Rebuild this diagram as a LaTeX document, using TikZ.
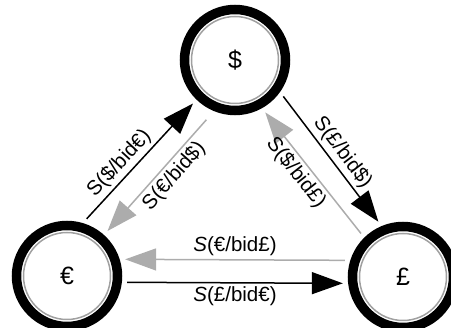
\documentclass[tikz,border=0pt]{standalone}
\usepackage{fontspec}
\setmainfont{Liberation Sans}
\usetikzlibrary{arrows.meta}
\definecolor{arrowgrey}{RGB}{172,172,172}
\definecolor{ringgrey}{RGB}{160,160,160}
\tikzset{
  currency/.style={shape=circle,draw=black,line width=9.5pt,minimum size=101pt,inner sep=0pt,outer sep=10pt,
    font=\fontsize{25}{28}\selectfont,
    path picture={\draw[ringgrey,line width=1.5pt] (path picture bounding box.center) circle (43.5pt);}},
  rate/.style={font=\fontsize{20.5}{24}\selectfont,inner sep=3pt},
  blackarrow/.style={draw=black,line width=1.5pt,-{Triangle[length=31pt,width=22pt]}},
  greyarrow/.style={draw=arrowgrey,line width=1.5pt,-{Triangle[length=31pt,width=22pt]}}
}
\begin{document}
\begin{tikzpicture}[x=1pt,y=-1pt]
\useasboundingbox (0,0) rectangle (451,328);
\node[currency] (usd) at (235,60) {\$};
\node[currency] (eur) at (67,276) {€};
\node[currency] (gbp) at (403,277) {£};
\draw[blackarrow] (eur.71) -- (usd.226) node[rate,sloped,above,pos=0.4] {S(\$/bid€)};
\draw[greyarrow,shorten <=6pt] (usd.246) -- (eur.48) node[rate,sloped,below,pos=0.45] {S(€/bid\$)};
\draw[blackarrow] (usd.-37) -- (gbp.114) node[rate,sloped,above,pos=0.51] {S(£/bid\$)};
\draw[greyarrow] (gbp.134) -- (usd.-60) node[rate,sloped,below,pos=0.57] {S(\$/bid£)};
\draw[greyarrow] (gbp.164) -- (eur.16) node[rate,above,midway] {\textit{S}(€/bid£)};
\draw[blackarrow] (eur.-6) -- (gbp.186) node[rate,below,midway] {\textit{S}(£/bid€)};
\end{tikzpicture}
\end{document}
